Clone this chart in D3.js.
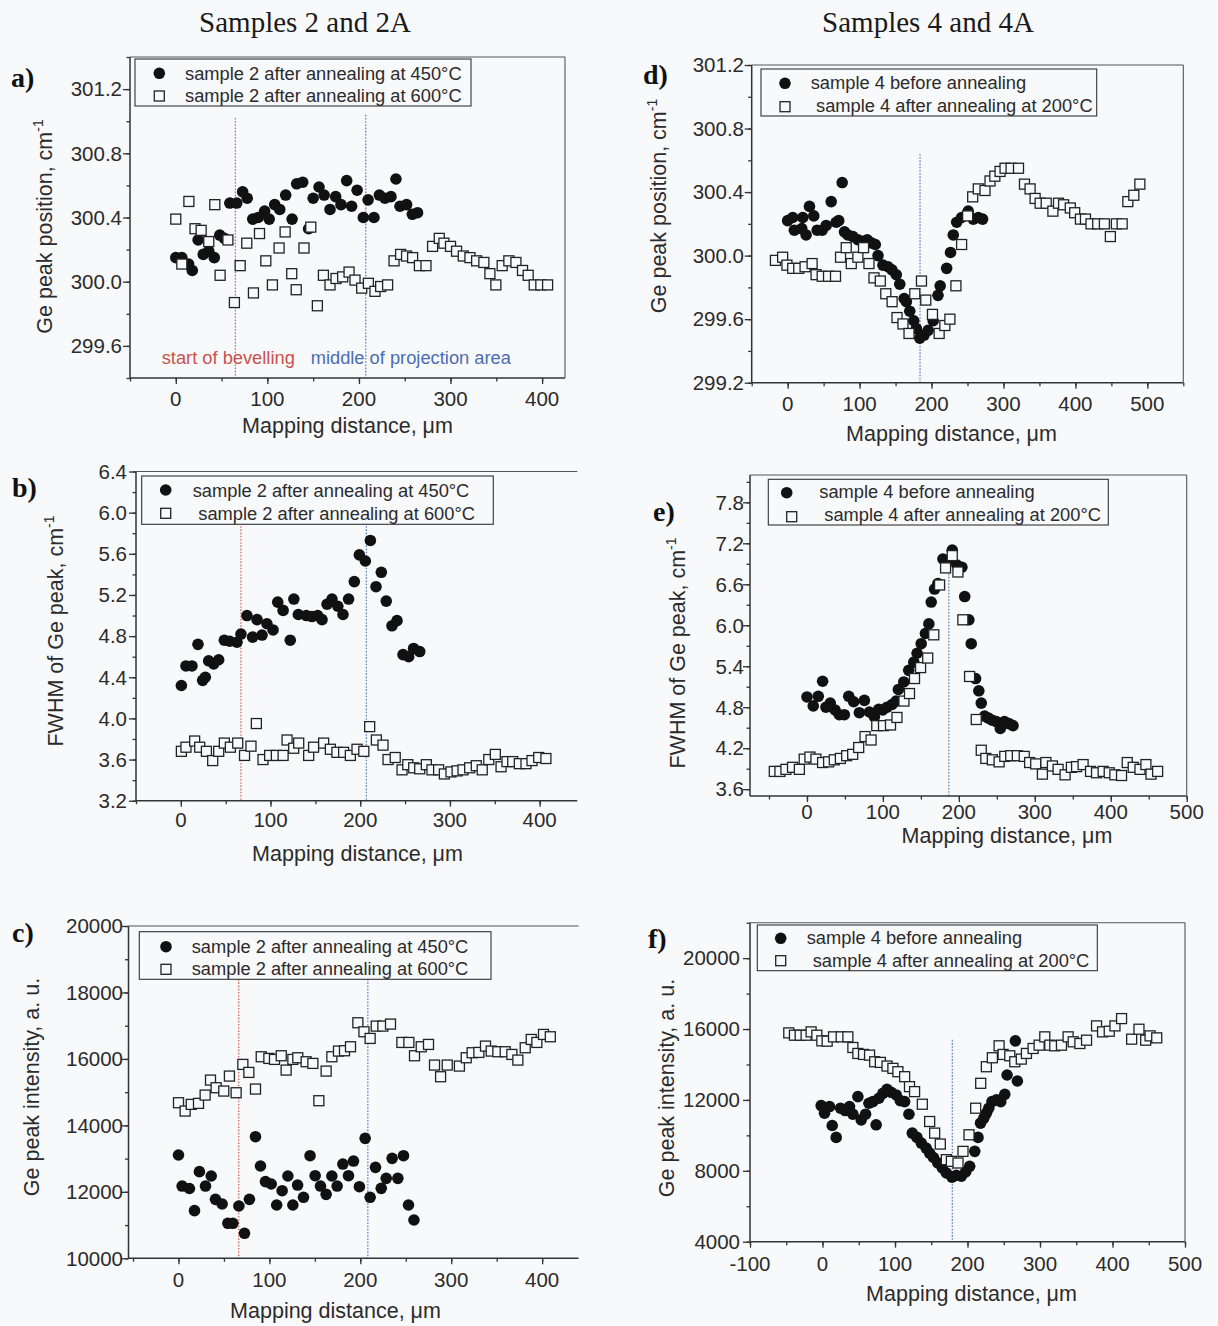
<!DOCTYPE html>
<html><head><meta charset="utf-8">
<script src="https://cdn.jsdelivr.net/npm/d3@7"></script>
<style>body{margin:0;background:#f8f9fb;}svg{display:block;}</style>
</head><body>
<svg id="c" width="1218" height="1326"></svg>
<script>
// ---------------- DATA ----------------
const columnTitles = ["Samples 2 and 2A", "Samples 4 and 4A"];
const panelLabels = ["a)", "b)", "c)", "d)", "e)", "f)"];
const legend2 = ["sample 2 after annealing at 450\u00B0C", "sample 2 after annealing at 600\u00B0C"];
const legend4 = ["sample 4 before annealing", "sample 4 after annealing at 200\u00B0C"];
const xTitle = "Mapping distance, \u03BCm";
const yTitles = ["Ge peak position, cm", "FWHM of Ge peak, cm", "Ge peak intensity, a. u.",
                 "Ge peak position, cm", "FWHM of Ge peak, cm", "Ge peak intensity, a. u."];
const annotationTexts = ["start of bevelling", "middle of projection area"];

const xTicks2 = [0, 100, 200, 300, 400];
const xTicksD = [0, 100, 200, 300, 400, 500];
const xTicksE = [0, 100, 200, 300, 400, 500];
const xTicksF = [-100, 0, 100, 200, 300, 400, 500];
const yTicksA = [299.6, 300.0, 300.4, 300.8, 301.2];
const yTicksB = [3.2, 3.6, 4.0, 4.4, 4.8, 5.2, 5.6, 6.0, 6.4];
const yTicksC = [10000, 12000, 14000, 16000, 18000, 20000];
const yTicksD = [299.2, 299.6, 300.0, 300.4, 300.8, 301.2];
const yTicksE = [3.6, 4.2, 4.8, 5.4, 6.0, 6.6, 7.2, 7.8];
const yTicksF = [4000, 8000, 12000, 16000, 20000];

// marker lines (x position, upper y end)
const refLinesA = [[65, 301.02], [207.5, 301.04]];
const refLinesB = [[67, 5.9], [206.8, 5.9]];
const refLinesC = [[66.3, 18400], [208.3, 18400]];
const refLinesD = [[184, 300.64]];
const refLinesE = [[186.8, 6.85]];
const refLinesF = [[179, 15390]];

const aFilled = [[0,300.15],[6.6,300.15],[14,300.11],[18,300.07],[24.4,300.26],[30,300.17],[36,300.19],[42,300.15],[48,300.29],[53,300.27],[59,300.49],[66.6,300.49],[73,300.56],[78,300.52],[84,300.39],[90,300.40],[97,300.44],[102,300.39],[108,300.48],[113.5,300.45],[120,300.54],[127,300.39],[132,300.61],[138.6,300.62],[145,300.33],[150,300.52],[156.4,300.59],[162,300.54],[168.4,300.45],[174.6,300.53],[180.4,300.48],[186.6,300.63],[192,300.47],[198,300.57],[204.8,300.40],[210,300.51],[216.4,300.40],[222.3,300.54],[228.4,300.52],[235,300.53],[240.4,300.64],[244.8,300.47],[252,300.48],[258.3,300.42],[264,300.43]];
const aOpen = [[0,300.39],[6.6,300.11],[14.3,300.50],[21,300.33],[27.7,300.32],[36,300.25],[42.6,300.48],[48.4,300.04],[56.9,300.26],[64,299.87],[70.3,300.10],[77.5,300.24],[84.8,299.93],[91.4,300.30],[98.3,300.13],[105.5,299.98],[112.8,300.21],[119.4,300.31],[126.6,300.05],[131.5,299.95],[140,300.21],[147.4,300.34],[154.6,299.85],[161.2,300.04],[168.4,299.98],[175,300.02],[182.2,300.03],[189.2,300.06],[195.7,300.01],[203,299.96],[210.3,299.99],[217.5,299.94],[223.7,299.97],[231.3,299.98],[238.3,300.13],[245.5,300.17],[252,300.16],[258.6,300.15],[266,300.10],[273.2,300.10],[280.4,300.22],[287.7,300.27],[292.8,300.24],[300,300.22],[306.6,300.19],[313.9,300.16],[321.2,300.15],[328.5,300.13],[336.4,300.12],[343,300.05],[349.5,299.98],[356.4,300.10],[363.7,300.13],[371.4,300.12],[378.6,300.07],[384.8,300.04],[391.4,299.98],[398.6,299.98],[406,299.98]];

const bFilled = [[0.6,4.32],[5.7,4.51],[12.4,4.51],[19.1,4.72],[24.3,4.37],[27.3,4.40],[31,4.56],[36.6,4.53],[42.2,4.57],[48.5,4.76],[54.5,4.75],[62.6,4.74],[67,4.82],[73.7,5.00],[80,4.79],[85,4.96],[90.5,4.81],[96,4.92],[102.8,4.86],[108,5.13],[114,5.05],[122,4.76],[126,5.16],[131,5.01],[140,5.00],[146.2,4.99],[152.5,5.00],[157.4,4.96],[163,5.11],[168.5,5.16],[175,5.09],[180.8,5.01],[187,5.16],[193.4,5.33],[199,5.59],[205.7,5.53],[211.3,5.73],[217.6,5.28],[223.5,5.42],[229,5.14],[235.4,4.90],[241,4.95],[247.7,4.62],[254,4.60],[259.5,4.68],[266.3,4.65]];
const bOpen = [[0.6,3.68],[5.7,3.72],[15.4,3.78],[21,3.72],[28.5,3.68],[35.5,3.59],[42.2,3.68],[48.5,3.76],[55.2,3.72],[63.4,3.76],[71,3.64],[78.2,3.73],[84.2,3.95],[91.6,3.60],[99,3.64],[106.5,3.64],[114,3.64],[118.4,3.79],[125.8,3.71],[131.4,3.76],[142.5,3.64],[148,3.72],[159.2,3.76],[166.7,3.70],[174,3.67],[181.5,3.67],[189,3.64],[196.4,3.70],[204,3.68],[210.5,3.92],[218,3.79],[225.4,3.74],[231,3.60],[239,3.62],[246.6,3.50],[253,3.55],[259.6,3.52],[266.3,3.51],[273.7,3.55],[280,3.50],[287.4,3.50],[293.8,3.46],[301.2,3.48],[308,3.49],[314.6,3.50],[322,3.52],[329.4,3.54],[336,3.50],[343.3,3.60],[350.6,3.65],[357,3.53],[363.6,3.58],[370,3.58],[377.4,3.56],[384.8,3.56],[391.5,3.59],[399,3.62],[407,3.61]];

const cFilled = [[0,13108],[4,12175],[12,12100],[17.6,11434],[23,12607],[29.7,12175],[36,12476],[40.7,11774],[48,11634],[54.3,11053],[59.8,11053],[66.4,11574],[72.6,10752],[78,11774],[84.7,13659],[90.2,12777],[95.7,12306],[102,12236],[108,11604],[114,12035],[120.3,12476],[125.8,11604],[131,12205],[137.5,11835],[144.7,13088],[150.3,12486],[156.2,12175],[162.4,11925],[168.7,12476],[174.5,12175],[180.8,12837],[187,12486],[192.5,12927],[199,12155],[205.3,13609],[210.8,11835],[216.7,12737],[223,12105],[228.5,12406],[235,13008],[241.3,12406],[247.5,13088],[253,11604],[259,11153]];
const cOpen = [[0,14682],[7.3,14431],[14,14632],[22,14662],[29.3,14912],[35.2,15363],[41.4,15133],[49.8,15033],[56,15484],[63.4,14982],[70.8,15835],[77.4,15594],[84.7,15093],[91,16065],[99.4,16015],[105.6,15985],[113,16095],[118.4,15664],[125.8,15985],[131.2,16035],[140.4,15915],[147.8,15865],[154.4,14742],[162.4,15634],[168.7,16065],[176,16236],[182.6,16246],[189.2,16366],[197.3,17088],[204,16817],[210.8,16617],[217.5,16988],[224.8,16988],[233.2,17048],[245.7,16496],[253.4,16496],[259.6,16095],[267,16366],[275,16436],[281.6,15815],[288.3,15464],[295.6,15815],[309,15784],[316.5,16035],[323,16186],[330.4,16196],[337.7,16386],[344,16236],[351.3,16216],[359.4,16216],[366.7,16135],[373.3,15965],[381.4,16336],[388,16586],[394.2,16496],[401.5,16737],[409,16667]];

const dFilled = [[0,300.22],[7,300.24],[9.3,300.16],[19.6,300.17],[21,300.24],[25.6,300.13],[30.3,300.31],[36.3,300.25],[41,300.16],[48,300.16],[53.5,300.19],[60.5,300.34],[67.5,300.21],[71,300.22],[75.8,300.46],[79,300.15],[83.7,300.13],[90.7,300.12],[97.6,300.10],[104.6,300.09],[110.7,300.10],[116.3,300.08],[121.8,300.07],[125.6,300.00],[132.5,299.94],[139.5,299.93],[145,299.91],[151,299.88],[155.8,299.82],[162,299.73],[165,299.71],[169.7,299.65],[175.3,299.59],[179,299.54],[183.7,299.48],[189.7,299.50],[195.3,299.53],[202.3,299.59],[209,299.75],[212,299.81],[221,299.92],[226.4,300.02],[230.2,300.13],[235,300.21],[241.8,300.24],[251,300.28],[258,300.23],[265,300.24],[271,300.23]];
const dOpen = [[-17,299.97],[-7,299.99],[-1,299.94],[7,299.92],[15.4,299.92],[24.2,299.93],[34,299.95],[39.5,299.88],[48,299.87],[56.8,299.87],[66.5,299.87],[73.5,299.99],[81.4,300.05],[88.4,299.95],[97.6,299.99],[105.5,300.05],[113,299.95],[120,299.86],[128.8,299.84],[136.4,299.76],[145.2,299.71],[152,299.61],[160.3,299.57],[168.7,299.51],[176.7,299.76],[186,299.84],[192,299.72],[201.3,299.63],[210.6,299.51],[218.5,299.56],[225.5,299.60],[233.9,299.81],[241.8,300.07],[250.2,300.25],[257.2,300.37],[265,300.42],[274.3,300.41],[281.3,300.47],[288,300.50],[295.3,300.53],[302.2,300.55],[310.6,300.55],[320.9,300.55],[329.2,300.45],[337,300.42],[344,300.36],[351,300.33],[359.4,300.33],[368.7,300.28],[376.5,300.33],[383.6,300.32],[392.9,300.30],[399,300.27],[407,300.23],[414,300.23],[421.7,300.20],[431,300.20],[440.3,300.20],[448.6,300.12],[457,300.20],[465,300.20],[472.9,300.34],[481.2,300.38],[489.6,300.45]];

const eFilled = [[0,4.95],[8.3,4.82],[14.9,4.96],[20.6,5.18],[25,4.80],[30.7,4.86],[36.9,4.76],[42.6,4.69],[49.2,4.69],[55,4.96],[61.5,4.88],[69,4.72],[75.6,4.90],[82.2,4.73],[88.8,4.66],[94.5,4.77],[99.8,4.76],[105.5,4.80],[112,4.84],[117.4,4.89],[120.4,5.06],[127.5,5.17],[134,5.34],[140.7,5.46],[145,5.59],[150.4,5.73],[156,5.88],[160.5,6.02],[163.6,6.34],[168,6.53],[172.4,6.61],[179,6.97],[185.5,6.95],[191.3,7.10],[197.5,6.88],[204,6.85],[207.7,6.42],[213.2,6.08],[216.3,5.73],[222,5.22],[226.3,5.04],[229.5,4.86],[233.9,4.67],[239,4.64],[244,4.61],[249.3,4.59],[254.6,4.49],[260,4.59],[265.9,4.56],[271.3,4.53]];
const eOpen = [[-43,3.86],[-35.6,3.86],[-27.7,3.89],[-19,3.92],[-10,3.89],[-3.6,4.04],[3.9,4.07],[11.8,4.04],[20.6,3.99],[28.5,4.00],[36,4.03],[44,4.05],[52.3,4.09],[60.2,4.11],[68.1,4.21],[76.5,4.37],[84.4,4.32],[91.9,4.53],[100.8,4.53],[110,4.54],[118.5,4.65],[127.7,4.89],[135,5.00],[141.6,5.22],[149.6,5.38],[159,5.52],[167,5.86],[174.6,6.59],[182.5,6.84],[191.3,7.02],[198.8,6.78],[205.3,6.08],[214.1,5.25],[222.9,4.62],[229.5,4.17],[235.5,4.05],[244.1,4.03],[253,4.00],[260.5,4.08],[268.3,4.09],[277,4.09],[286.1,4.08],[293.2,3.99],[301.2,3.97],[310,3.82],[314.6,3.99],[323.2,3.94],[330.7,3.89],[339.9,3.81],[348.2,3.92],[355,3.93],[363.6,3.96],[373.4,3.86],[381.3,3.84],[390,3.86],[398,3.84],[405.4,3.81],[414.2,3.80],[421.7,3.99],[429.6,3.92],[438.5,3.89],[446.3,3.96],[453,3.82],[461.7,3.86]];

const fFilled = [[-1.8,11682],[2.8,11251],[9.7,11625],[13.4,10558],[18.9,9884],[24.9,11532],[31.3,11401],[37.3,11625],[41.9,11195],[48.8,12187],[53.4,10876],[59.4,11195],[64,11813],[69.5,11906],[74,10595],[77.8,12094],[83.3,12375],[88.9,12599],[94.8,12431],[101.7,12281],[107.3,11963],[113.3,11906],[119.2,11195],[123.8,10127],[130.3,9884],[136.3,9565],[143,9284],[147.8,9003],[153,8750],[159,8450],[165.3,8160],[170.8,7880],[178.6,7636],[184.6,7748],[191.5,7692],[197.5,7936],[203,8254],[210,9097],[214.5,9884],[218,10689],[222.5,10970],[226,11251],[229.3,11532],[233.8,11906],[240,12000],[245.9,11906],[251.4,12318],[254.6,13405],[266,15334],[268.8,13068]];
const fOpen = [[-46.5,15783],[-38.7,15652],[-30.8,15652],[-22.6,15652],[-15.7,15840],[-7.8,15652],[-0.9,15334],[6.4,15315],[15.2,15559],[25.8,15559],[35,15559],[41.9,14959],[48.8,14622],[56.6,14566],[64.9,14528],[72,14154],[79.8,14117],[89,13911],[97.1,13780],[104,13592],[113.3,13311],[120,12749],[127,12468],[137.7,11757],[147.8,10782],[154.7,10127],[162.5,9509],[170.8,8628],[177.7,8535],[186.9,8441],[193.8,9097],[202.1,10033],[211.3,11532],[218.2,12937],[226,13873],[234.3,14379],[243.6,15053],[249.1,14566],[258.3,14491],[265.2,14154],[274.2,14304],[281.3,14622],[290.5,14903],[298.8,15090],[306.6,15559],[313.5,15090],[320.4,15053],[329.6,15090],[338.8,15559],[345.8,15278],[355,15184],[364.2,15371],[378,16177],[386.3,15840],[395.5,15877],[403.4,16177],[412.5,16589],[426.4,15428],[436.5,15990],[445.8,15371],[451.8,15615],[461,15502]];

// ---------------- STYLE / LAYOUT ----------------
const BG = "#f8f9fb";
const INK = "#2b2b2b";
const RED = "#c9524c";
const BLUE = "#4a6db3";
const SANS = "'Liberation Sans', Arial, Helvetica, sans-serif";
const SERIF = "'Liberation Serif', 'Times New Roman', serif";
const intFmt = v => d3.format("d")(v).replace("\u2212", "-");

const svg = d3.select("#c");
svg.append("rect").attr("width", 1218).attr("height", 1326).attr("fill", BG);

const panels = [
  {l:130, t:57, r:565, b:378, xd:[-50,425], yd:[299.4,301.4], top:true, right:true,
   xTicks:xTicks2, xMinor:50, yTicks:yTicksA, yMinor:0.2, fmt:d3.format(".1f"),
   filled:aFilled, open:aOpen, refs:refLinesA, refColors:[RED,BLUE], legend:legend2,
   box:[135,59,471,106], mk:[[159.3,73.3],[159.3,96]], tx:[[185,79.5],[185,102]],
   yLabRight:122, xLabBase:405.5, xTitlePos:[347.5,433], yTitlePos:[51.5,226.5], sup:true, lab:[11,87]},
  {l:136, t:471.5, r:577.3, b:800.7, xd:[-50,442], yd:[3.2,6.4], top:true, right:false,
   xTicks:xTicks2, xMinor:50, yTicks:yTicksB, yMinor:0.2, fmt:d3.format(".1f"),
   filled:bFilled, open:bOpen, refs:refLinesB, refColors:[RED,BLUE], legend:legend2,
   box:[141.7,476,493.3,524.3], mk:[[165.7,490],[165.7,513.3]], tx:[[192.7,496.5],[198.3,519.5]],
   yLabRight:127, xLabBase:827, xTitlePos:[357.5,861], yTitlePos:[62.5,631], sup:true, lab:[12,497]},
  {l:128.5, t:926, r:578.5, b:1258.3, xd:[-55,440], yd:[10000,20000], top:true, right:false,
   xTicks:xTicks2, xMinor:50, yTicks:yTicksC, yMinor:1000, fmt:intFmt,
   filled:cFilled, open:cOpen, refs:refLinesC, refColors:[RED,BLUE], legend:legend2,
   box:[139.3,931.7,491,979.3], mk:[[166,946.7],[166,969.3]], tx:[[191.7,952.5],[191.7,975]],
   yLabRight:123, xLabBase:1287, xTitlePos:[335.5,1318], yTitlePos:[39,1087], sup:false, lab:[12,942]},
  {l:751.7, t:65, r:1183.3, b:382.7, xd:[-50,550], yd:[299.2,301.2], top:true, right:true,
   xTicks:xTicksD, xMinor:50, yTicks:yTicksD, yMinor:0.2, fmt:d3.format(".1f"),
   filled:dFilled, open:dOpen, refs:refLinesD, refColors:[BLUE], legend:legend4,
   box:[761,69,1096.7,116], mk:[[785,83.3],[785,106.7]], tx:[[810.7,89],[816,112]],
   yLabRight:744, xLabBase:410.5, xTitlePos:[951.5,441], yTitlePos:[665.7,206], sup:true, lab:[643,84]},
  {l:750, t:475, r:1186.7, b:796, xd:[-75,500], yd:[3.5,8.2], top:true, right:true,
   xTicks:xTicksE, xMinor:50, yTicks:yTicksE, yMinor:0.3, fmt:d3.format(".1f"),
   filled:eFilled, open:eOpen, refs:refLinesE, refColors:[BLUE], legend:legend4,
   box:[768.3,479.3,1108.3,525], mk:[[786.7,492.7],[791.7,516.7]], tx:[[819.3,498],[824.3,521]],
   yLabRight:744, xLabBase:819, xTitlePos:[1007,843], yTitlePos:[685,653], sup:true, lab:[653,521]},
  {l:750, t:922.7, r:1185, b:1241.7, xd:[-100,500], yd:[4000,22000], top:true, right:true,
   xTicks:xTicksF, xMinor:50, yTicks:yTicksF, yMinor:2000, fmt:intFmt,
   filled:fFilled, open:fOpen, refs:refLinesF, refColors:[BLUE], legend:legend4,
   box:[757.3,925,1097.3,970.7], mk:[[780.7,938.3],[780.7,960.7]], tx:[[806.7,944],[812.7,966.5]],
   yLabRight:740, xLabBase:1270.5, xTitlePos:[971.5,1301], yTitlePos:[674,1088], sup:false, lab:[648,948]}
];

const R = 5.8, SQ = 10;

function minorValues(domain, step) {
  const s = Math.ceil(domain[0] / step - 1e-9), e = Math.floor(domain[1] / step + 1e-9);
  return d3.range(s, e + 1).map(k => +(k * step).toFixed(6));
}

panels.forEach((p, i) => {
  const x = d3.scaleLinear().domain(p.xd).range([p.l, p.r]);
  const y = d3.scaleLinear().domain(p.yd).range([p.b, p.t]);
  const g = svg.append("g");

  // reference dotted lines
  p.refs.forEach((ref, k) => {
    g.append("line").attr("x1", x(ref[0])).attr("x2", x(ref[0]))
      .attr("y1", y(ref[1])).attr("y2", y(p.yd[0]))
      .attr("stroke", p.refColors[k]).attr("stroke-width", 1.1)
      .attr("stroke-dasharray", "1.6,1.6");
  });

  // axes ticks
  const ax = g.append("g").attr("color", "#333");
  ax.append("g").attr("transform", `translate(${p.l},0)`)
    .call(d3.axisLeft(y).tickValues(minorValues(p.yd, p.yMinor)).tickSize(3.5).tickFormat(""))
    .call(s => s.select(".domain").remove());
  ax.append("g").attr("transform", `translate(${p.l},0)`)
    .call(d3.axisLeft(y).tickValues(p.yTicks).tickSize(7).tickFormat(""))
    .call(s => s.select(".domain").remove());
  ax.append("g").attr("transform", `translate(0,${p.b})`)
    .call(d3.axisBottom(x).tickValues(minorValues(p.xd, p.xMinor)).tickSize(3.5).tickFormat(""))
    .call(s => s.select(".domain").remove());
  ax.append("g").attr("transform", `translate(0,${p.b})`)
    .call(d3.axisBottom(x).tickValues(p.xTicks).tickSize(6).tickFormat(""))
    .call(s => s.select(".domain").remove());
  ax.selectAll(".tick line").attr("stroke-width", 1.3);

  // spines
  const spine = (x1, y1, x2, y2) => g.append("line").attr("x1", x1).attr("y1", y1)
    .attr("x2", x2).attr("y2", y2).attr("stroke", "#333").attr("stroke-width", 1.5);
  spine(p.l, p.t, p.l, p.b);
  spine(p.l, p.b, p.r, p.b);
  if (p.top) spine(p.l, p.t, p.r, p.t).attr("stroke-width", 1.1).attr("stroke", "#555");
  if (p.right) spine(p.r, p.t, p.r, p.b).attr("stroke-width", 1.1).attr("stroke", "#555");

  // tick labels
  g.selectAll(null).data(p.yTicks).enter().append("text")
    .attr("x", p.yLabRight).attr("y", d => y(d) + 7.3)
    .attr("text-anchor", "end").attr("font-family", SANS).attr("font-size", 20.5)
    .attr("fill", INK).text(d => p.fmt(d));
  g.selectAll(null).data(p.xTicks).enter().append("text")
    .attr("x", d => x(d)).attr("y", p.xLabBase)
    .attr("text-anchor", "middle").attr("font-family", SANS).attr("font-size", 20.5)
    .attr("fill", INK).text(d => intFmt(d));

  // axis titles
  g.append("text").attr("x", p.xTitlePos[0]).attr("y", p.xTitlePos[1])
    .attr("text-anchor", "middle").attr("font-family", SANS).attr("font-size", 21.5)
    .attr("fill", INK).text(xTitle);
  const yt = g.append("text")
    .attr("transform", `translate(${p.yTitlePos[0]},${p.yTitlePos[1]}) rotate(-90)`)
    .attr("text-anchor", "middle").attr("font-family", SANS).attr("font-size", 21.5)
    .attr("fill", INK);
  yt.append("tspan").text(yTitles[i]);
  if (p.sup) yt.append("tspan").attr("dy", -9).attr("font-size", 14).text("-1");

  // data markers
  g.selectAll(null).data(p.filled).enter().append("circle")
    .attr("cx", d => x(d[0])).attr("cy", d => y(d[1])).attr("r", R).attr("fill", "#111");
  g.selectAll(null).data(p.open).enter().append("rect")
    .attr("x", d => x(d[0]) - SQ / 2).attr("y", d => y(d[1]) - SQ / 2)
    .attr("width", SQ).attr("height", SQ)
    .attr("fill", BG).attr("stroke", "#222").attr("stroke-width", 1.3);

  // legend
  g.append("rect").attr("x", p.box[0]).attr("y", p.box[1])
    .attr("width", p.box[2] - p.box[0]).attr("height", p.box[3] - p.box[1])
    .attr("fill", BG).attr("stroke", "#333").attr("stroke-width", 1.1);
  g.append("circle").attr("cx", p.mk[0][0]).attr("cy", p.mk[0][1]).attr("r", R).attr("fill", "#111");
  g.append("rect").attr("x", p.mk[1][0] - SQ / 2).attr("y", p.mk[1][1] - SQ / 2)
    .attr("width", SQ).attr("height", SQ).attr("fill", BG).attr("stroke", "#222").attr("stroke-width", 1.3);
  p.legend.forEach((t, k) => {
    g.append("text").attr("x", p.tx[k][0]).attr("y", p.tx[k][1])
      .attr("font-family", SANS).attr("font-size", 18.3).attr("fill", INK).text(t);
  });

  // panel label
  g.append("text").attr("x", p.lab[0]).attr("y", p.lab[1])
    .attr("font-family", SERIF).attr("font-weight", "bold").attr("font-size", 28)
    .attr("fill", "#111").text(panelLabels[i]);

  // annotations (panel a only)
  if (i === 0) {
    g.append("text").attr("x", 161.7).attr("y", 363.5).attr("font-family", SANS)
      .attr("font-size", 18.3).attr("fill", RED).text(annotationTexts[0]);
    g.append("text").attr("x", 310.7).attr("y", 363.5).attr("font-family", SANS)
      .attr("font-size", 18.3).attr("fill", BLUE).text(annotationTexts[1]);
  }
});

// column titles
svg.selectAll(null).data(columnTitles).enter().append("text")
  .attr("x", (d, k) => k === 0 ? 305 : 928).attr("y", 32)
  .attr("text-anchor", "middle").attr("font-family", SERIF).attr("font-size", 29)
  .attr("fill", "#1a1a1a").text(d => d);
</script>
</body></html>
